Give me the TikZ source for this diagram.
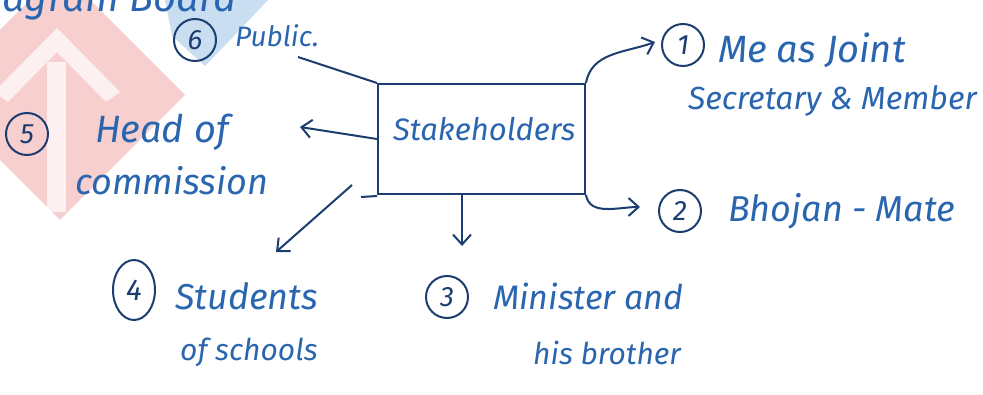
\documentclass[tikz,border=0pt]{standalone}
\usepackage{fontspec}
\setmainfont{Fira Sans}[UprightFont=* Italic, ItalicFont=* Italic]
\usetikzlibrary{arrows.meta,shapes.geometric}
\definecolor{ink}{HTML}{2A66B0}
\definecolor{navy}{HTML}{1C3D70}
\definecolor{wmpink}{HTML}{F2A8A8}
\definecolor{wmblue}{HTML}{9EC4E4}
\tikzset{
  label/.style={anchor=base west, inner sep=0pt, text=ink},
  numring/.style={draw=navy, circle, line width=2pt, inner sep=0pt,
                  minimum size=42pt, text=navy, font=\fontsize{28}{28}\selectfont},
  tallring/.style={draw=navy, ellipse, line width=2pt, inner sep=0pt,
                  minimum width=42pt, minimum height=60pt, text=navy, font=\fontsize{30}{30}\selectfont},
  link/.style={draw=navy, line width=2pt},
  tip/.style={-{Straight Barb[length=10pt,width=18pt,line width=2pt]}},
  hub/.style={draw=navy, line width=2pt, minimum width=207pt, minimum height=110pt,
              inner sep=0pt, text=ink}
}
\begin{document}
\begin{tikzpicture}[x=1pt,y=-1pt]
\useasboundingbox (0,0) rectangle (983,395);
\fill[white] (0,0) rectangle (983,395);
\begin{scope}
\clip (0,0) rectangle (983,395);
% faint logo stamped in the corner
\fill[wmpink, opacity=0.55] (60,-30) -- (185,95) -- (60,220) -- (-65,95) -- cycle;
\fill[white, opacity=0.7] (57,28) -- (120,92) -- (106,102) -- (57,52) -- (8,102) -- (-6,92) -- cycle;
\fill[white, opacity=0.7] (47,62) rectangle (66,212);
\fill[wmblue, opacity=0.55] (165,0) -- (268,0) -- (232,38) -- (205,66) -- (172,36) -- cycle;
% heading running off the top edge
\node[label, font=\fontsize{40}{40}\selectfont] (head) at (2,12) {agram Board};

% central box
\node[hub] (sh) at (481.5,139) {};
\node[label, font=\fontsize{31}{31}\selectfont] (shtext) at (393,141) {Stakeholders};
\draw[link] (sh.south west) ++(0,1) -- ++(-16,1);

% stakeholders
\node[numring] (n1) at (683,45) {1};
\node[label, font=\fontsize{38}{38}\selectfont] (t1a) at (718,63) {Me as Joint};
\node[label, font=\fontsize{32}{32}\selectfont] (t1b) at (688,110) {Secretary \& Member};

\node[numring] (n2) at (680,211) {2};
\node[label, font=\fontsize{36}{36}\selectfont] (t2) at (728,222) {Bhojan - Mate};

\node[numring] (n3) at (447,297) {3};
\node[label, font=\fontsize{34}{34}\selectfont] (t3a) at (493,310) {Minister and};
\node[label, font=\fontsize{30}{30}\selectfont] (t3b) at (533,365) {his brother};

\node[tallring] (n4) at (134,290) {4};
\node[label, font=\fontsize{36}{36}\selectfont] (t4a) at (175,310) {Students};
\node[label, font=\fontsize{30}{30}\selectfont] (t4b) at (180,360) {of schools};

\node[numring] (n5) at (27,134) {5};
\node[label, font=\fontsize{38}{38}\selectfont] (t5a) at (95,143) {Head of};
\node[label, font=\fontsize{36}{36}\selectfont] (t5b) at (75,195) {commission};

\node[numring] (n6) at (195,40) {6};
\node[label, font=\fontsize{28}{28}\selectfont] (t6) at (235,47) {Public.};

% connectors
\coordinate (pubend) at (298,57);
\coordinate (headend) at (300,127);
\coordinate (studstart) at (352,185);
\coordinate (studend) at (276,252);
\coordinate (minend) at (462,246);
\coordinate (bhojend) at (640,207);
\coordinate (jointend) at (655,42);

\draw[link] (pubend) -- (sh.north west);
\draw[link, tip] (sh.west) -- (headend);
\draw[link, tip] (studstart) -- (studend);
\draw[link, tip] (sh.south -| minend) -- (minend);
\draw[link, tip] (sh.south east) to[out=-80, in=180] (bhojend);
\draw[link, tip] (sh.north east) to[out=80, in=200] (jointend);
\end{scope}
\end{tikzpicture}
\end{document}
